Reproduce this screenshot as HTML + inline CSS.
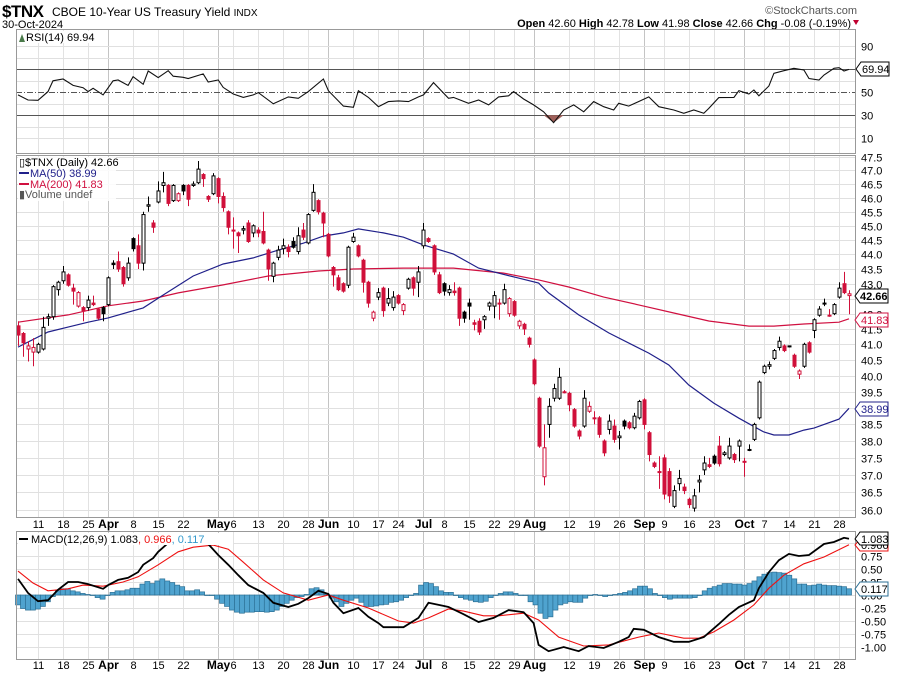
<!DOCTYPE html>
<html><head><meta charset="utf-8">
<style>
html,body{margin:0;padding:0;background:#fff;}
body{width:900px;height:673px;overflow:hidden;font-family:"Liberation Sans",Arial,sans-serif;}
svg text{font-family:"Liberation Sans",Arial,sans-serif;}
</style></head>
<body>
<svg id="chart" width="900" height="673" xmlns="http://www.w3.org/2000/svg">
  <rect x="0" y="0" width="900" height="673" fill="#fff"/>
  <text x="2" y="17" font-size="17" font-weight="bold" fill="#000" style="letter-spacing:-0.5px">$TNX</text>
  <text x="52" y="16" font-size="12" fill="#000">CBOE 10-Year US Treasury Yield <tspan font-size="10">INDX</tspan></text>
  <text x="2" y="28" font-size="11" fill="#000">30-Oct-2024</text>
  <text x="857" y="14" font-size="11" fill="#555" text-anchor="end">©StockCharts.com</text>
  <text x="851" y="27" font-size="11" fill="#000" text-anchor="end"><tspan font-weight="bold">Open</tspan> 42.60 <tspan font-weight="bold">High</tspan> 42.78 <tspan font-weight="bold">Low</tspan> 41.98 <tspan font-weight="bold">Close</tspan> 42.66 <tspan font-weight="bold">Chg</tspan> -0.08 (-0.19%)</text>
  <polygon points="853,20 859,20 856,25" fill="#c00030"/>
  <g id="g-grid"></g>
  <g id="g-rsi"></g>
  <g id="g-price"></g>
  <g id="g-macd"></g>
  <g id="g-axes"></g>
</svg>
<script>
// ---------- DATA ----------
const opens = [41.6,41.35,40.85,40.75,40.75,40.85,41.85,41.9,42.8,43.1,43.3,42.85,42.25,42.2,42.2,42.35,42.15,42.2,42.3,43.7,43.75,43.55,43.2,44.55,44.3,43.7,45.7,45.1,45.85,46.45,46.45,45.9,45.9,46.45,46.45,46.45,46.55,46.85,46.05,46.15,46.7,46.05,45.5,44.85,44.75,44.85,45.1,44.75,44.85,44.8,44.15,43.25,43.9,44.2,44.25,44.45,44.1,44.85,44.4,45.55,45.9,45.45,44.7,43.55,43.2,43.0,42.95,44.45,44.3,43.8,43.05,41.85,42.55,42.85,42.35,42.2,42.6,42.1,42.85,43.2,43.05,44.3,44.55,44.3,43.3,43.0,42.7,42.75,42.85,42.05,42.35,41.7,41.75,41.8,42.25,42.25,42.35,42.35,42.0,42.4,41.6,41.65,41.2,40.5,39.3,36.95,38.5,39.3,39.3,39.5,39.45,38.95,38.3,38.45,38.9,38.7,38.7,38.0,38.35,38.45,38.1,38.6,38.55,38.4,38.7,39.25,38.25,37.35,37.1,37.5,37.1,36.1,36.75,36.65,36.3,36.05,36.8,37.15,37.3,37.55,37.85,37.6,37.5,37.6,37.85,37.4,37.75,38.05,38.7,40.1,40.3,40.55,40.9,40.95,40.95,40.65,40.05,40.3,41.05,41.45,41.95,42.35,41.95,42.0,42.55,43.0,42.6];
const highs = [41.75,41.4,41.1,41.2,41.05,41.9,42.0,42.95,43.1,43.6,43.35,43.0,42.75,42.25,42.6,42.6,42.2,42.25,43.25,43.8,44.1,43.6,43.9,44.6,44.7,45.5,46.05,45.2,46.6,46.95,46.5,46.5,46.2,46.5,46.5,46.6,47.35,46.9,46.1,46.9,46.75,46.2,45.55,45.3,44.8,45.0,45.2,45.05,44.95,45.5,44.2,43.75,44.3,44.55,44.35,44.6,44.95,45.1,45.45,46.5,45.95,45.5,44.75,43.6,43.3,43.05,44.3,44.75,44.35,43.85,43.1,42.1,42.85,42.9,42.85,42.75,42.65,42.35,43.2,43.25,43.6,45.1,44.6,44.35,43.4,43.05,42.95,43.05,42.9,42.1,42.5,41.8,41.85,41.95,42.4,42.75,42.5,43.0,42.55,42.45,41.8,41.7,41.25,40.55,39.35,38.5,39.3,39.75,40.25,39.55,39.5,39.0,38.35,39.55,39.2,38.9,38.75,38.05,38.8,38.65,38.3,38.65,38.6,38.85,39.25,39.3,38.3,37.4,37.55,37.6,37.2,36.7,37.15,36.75,36.35,36.6,37.0,37.55,37.5,37.6,38.15,37.7,38.1,37.65,38.05,37.5,37.9,38.55,39.85,40.35,40.45,40.85,41.25,41.0,40.95,40.7,40.2,41.05,41.1,41.85,42.25,42.5,42.15,42.35,43.05,43.4,42.78];
const lows = [40.95,40.6,40.45,40.3,40.7,40.8,41.6,41.8,42.6,43.0,42.9,42.3,42.2,41.75,42.1,42.25,41.8,41.75,42.25,43.5,43.4,42.9,43.1,44.1,43.5,43.45,45.5,44.75,45.8,46.2,45.7,45.85,45.85,46.1,45.7,46.4,46.5,46.4,45.85,46.1,45.8,45.5,44.7,44.2,44.05,44.7,44.4,44.6,44.6,44.35,43.1,43.05,43.8,44.0,43.9,44.2,44.0,44.5,44.35,45.5,45.4,44.6,43.9,42.9,42.75,42.7,42.85,44.4,43.9,42.7,42.2,41.75,42.45,41.9,42.25,42.1,42.3,41.95,42.8,42.6,42.55,44.2,44.4,43.3,42.65,42.6,42.6,42.6,41.6,41.7,41.8,41.45,41.3,41.5,42.1,41.85,41.8,42.3,41.9,41.9,41.5,41.3,40.9,39.7,37.8,36.7,38.1,39.2,39.25,39.45,38.9,38.4,38.05,38.4,38.85,38.5,38.1,37.55,38.2,37.95,37.75,38.35,38.35,38.35,38.65,38.35,37.4,37.2,36.6,36.3,36.2,36.05,36.55,36.45,36.05,35.95,36.5,37.0,37.2,37.3,37.25,37.55,37.45,37.35,37.4,36.95,37.7,38.0,38.65,40.05,40.2,40.5,40.8,40.75,40.9,40.25,39.9,40.25,40.7,41.2,41.9,42.25,41.9,41.95,42.5,42.65,41.98];
const closes = [41.3,41.05,40.95,40.9,41.0,41.55,41.9,42.9,43.05,43.4,42.95,42.75,42.7,42.1,42.45,42.3,41.85,42.0,43.2,43.65,43.5,43.0,43.7,44.2,43.7,45.4,45.75,44.95,46.25,46.55,45.8,46.45,46.15,46.25,45.95,46.5,47.05,46.7,45.95,46.8,46.05,45.65,44.95,44.85,44.65,44.9,44.45,45.0,44.75,44.4,43.5,43.7,44.15,44.3,44.1,44.25,44.65,44.6,45.4,46.2,45.5,45.1,43.95,43.3,42.8,42.75,44.25,44.6,43.95,43.05,42.35,42.05,42.7,42.1,42.5,42.55,42.35,42.3,43.15,42.85,43.4,44.85,44.45,43.4,42.7,42.75,42.8,42.7,41.85,41.85,42.25,41.65,41.4,41.9,42.35,42.6,42.35,42.8,42.5,41.95,41.75,41.5,41.0,39.75,37.85,37.8,39.05,39.6,39.95,39.5,39.1,38.45,38.15,39.3,39.05,38.7,38.2,37.65,38.6,38.05,38.15,38.45,38.4,38.75,39.2,38.5,37.6,37.25,37.1,36.45,36.4,36.55,36.9,36.55,36.15,36.4,36.85,37.35,37.25,37.35,37.33,37.65,37.85,37.45,38.0,37.4,37.75,38.5,39.8,40.3,40.35,40.8,41.1,40.8,40.92,40.3,40.15,41.0,40.75,41.8,42.15,42.35,41.95,42.3,42.85,42.7,42.66];

const ma50Idx = [0,6,10,14,18,25,29,35,41,47,52,57,61,65,68,73,77,81,87,92,100,104,106,112,118,126,130,134,139,144,149,151,154,157,159,164,166];
const ma50Val = [40.91,41.40,41.56,41.72,41.86,42.19,42.62,43.26,43.67,43.88,44.15,44.39,44.64,44.75,44.89,44.75,44.60,44.33,44.01,43.53,43.19,43.02,42.69,41.96,41.37,40.72,40.34,39.71,39.15,38.69,38.27,38.18,38.18,38.33,38.39,38.66,38.99];
const ma200Idx = [0,10,18,25,32,41,50,60,67,77,87,97,104,110,117,124,131,138,146,151,157,164,166];
const ma200Val = [41.72,41.96,42.26,42.42,42.69,42.96,43.26,43.43,43.50,43.53,43.53,43.36,43.13,42.89,42.55,42.29,42.02,41.76,41.59,41.59,41.66,41.72,41.83];

const rsiIdx = [0,2,4,6,7,9,11,13,14,15,17,19,20,22,23,25,26,28,30,31,33,34,37,38,40,41,43,45,47,48,51,54,56,58,61,62,65,67,68,70,72,74,76,78,80,81,83,86,87,90,92,94,96,98,99,101,103,105,107,109,111,113,115,117,119,120,122,126,128,131,133,135,137,138,140,143,144,146,147,148,150,151,153,155,157,158,160,161,163,164,165,166];
const rsiVal = [47.7,43.3,43,50.6,60,61.6,56,54,50.6,53.5,47.7,60,60.7,56,63.6,57,68.5,62.8,68.8,64,63,62,66,59,60.7,54.3,48.5,45.6,47.7,49.7,40,46,44.8,50.6,61.6,51.4,38,37,51.4,45.6,37.5,41.9,42.5,41.9,46,47.7,58.4,44.8,45.6,40.4,43.3,39,46,47,50.6,44.2,39,33,23.6,34.6,39,33,41.9,37.5,34.6,40.4,38,46,37.5,34.6,31.7,34.6,31.7,36,45.4,45.6,51.4,48.5,52,47,55.5,66.5,68.8,70.9,69.4,62,60.7,65,70.9,71.4,68.5,69.94];

const macdIdx = [0,2,4,6,8,10,12,14,17,18,20,22,24,25,27,28,30,34,38,40,42,44,46,49,51,54,56,58,60,62,63,65,68,70,72,73,77,80,82,85,86,89,92,95,98,101,103,104,106,109,112,114,117,120,122,123,125,128,131,134,137,140,142,144,147,148,150,152,154,156,158,161,163,165,166];
const macdVal = [0.31,0.04,-0.12,-0.10,0.10,0.25,0.25,0.21,0.12,0.19,0.29,0.33,0.44,0.58,0.71,0.83,1.0,1.15,0.98,0.77,0.58,0.38,0.19,0.04,-0.15,-0.23,-0.17,-0.06,0.08,0.02,-0.15,-0.35,-0.25,-0.42,-0.54,-0.62,-0.62,-0.44,-0.15,-0.21,-0.23,-0.37,-0.52,-0.44,-0.29,-0.33,-0.54,-0.96,-1.08,-1.0,-1.08,-0.98,-1.02,-0.9,-0.81,-0.65,-0.67,-0.81,-0.9,-0.9,-0.81,-0.56,-0.38,-0.23,-0.10,0.13,0.44,0.67,0.79,0.75,0.77,0.98,1.02,1.10,1.083];
const sigIdx = [0,3,6,10,13,17,21,24,28,32,35,39,42,45,49,53,58,62,65,70,76,79,82,86,89,93,96,101,104,108,113,118,124,128,133,136,139,143,147,150,153,157,161,166];
const sigVal = [0.46,0.23,0.08,0.12,0.19,0.17,0.25,0.35,0.58,0.83,0.92,0.96,0.88,0.63,0.29,0.04,-0.10,0.0,-0.10,-0.25,-0.50,-0.54,-0.44,-0.27,-0.31,-0.40,-0.40,-0.35,-0.48,-0.81,-0.98,-0.96,-0.81,-0.73,-0.83,-0.83,-0.71,-0.48,-0.19,0.13,0.38,0.60,0.73,0.966];
const histVal = [-.19,-.26,-.29,-.29,-.27,-.22,-.13,-.03,.08,.12,.12,.08,.06,.03,.01,0,-.05,-.08,-.01,.05,.08,.08,.10,.13,.13,.21,.26,.22,.27,.31,.27,.24,.19,.16,.08,.08,.10,.06,0,-.01,-.08,-.16,-.22,-.29,-.33,-.35,-.33,-.33,-.32,-.32,-.33,-.32,-.29,-.22,-.16,-.10,-.05,-.03,.01,.12,.14,.10,.01,-.06,-.13,-.22,-.16,-.10,-.06,-.14,-.22,-.22,-.21,-.19,-.18,-.14,-.13,-.10,-.05,0,.03,.19,.24,.22,.16,.08,.05,
 .05,-.01,-.05,-.08,-.10,-.13,-.14,-.12,-.05,0,.03,.06,.06,.03,0,-.01,-.13,-.19,-.35,-.45,-.42,-.29,-.19,-.16,-.13,-.14,-.14,-.06,-.01,.01,0,-.03,-.01,.01,.03,.05,.08,.12,.17,.17,.12,.03,-.01,-.05,-.08,-.06,-.06,-.06,-.06,-.05,-.01,.08,.13,.16,.19,.22,.22,.21,.21,.19,.22,.27,.35,.40,.43,.44,.43,.42,.38,.31,.21,.21,.18,.19,.21,.19,.18,.18,.17,.16,.12];

const dateIdx = [4,9,14,18,23,28,33,40,43,48,53,58,62,67,72,76,81,85,90,95,99,103,110,115,120,125,129,134,139,145,149,154,159,164];
const dateLbl = ["11","18","25","Apr","8","15","22","May","6","13","20","28","Jun","10","17","24","Jul","8","15","22","29","Aug","12","19","26","Sep","9","16","23","Oct","7","14","21","28"];
const priceTicks = ["47.5","47.0","46.5","46.0","45.5","45.0","44.5","44.0","43.5","43.0","42.5","42.0","41.5","41.0","40.5","40.0","39.5","39.0","38.5","38.0","37.5","37.0","36.5","36.0"];
const rsiTicks = [90,70,50,30,10];
const macdTicks = ["1.00","0.75","0.50","0.25","0.00","-0.25","-0.50","-0.75","-1.00"];

// ---------- SCALES ----------
const L = 16, R = 855;
const NS = "http://www.w3.org/2000/svg";
function xOf(i){ return 18 + (831/(closes.length-1))*i; }
const histStep = 831/(histVal.length-1);
function xHist(i){ return 18 + histStep*i; }
function priceY(v){ return 157 + (Math.log(47.5)-Math.log(v))*1273; }
function rsiY(v){ return 92.3 - (v-50)*1.15; }
function macdY(v){ return 595 - v*52; }
function mk(tag, attrs, parent){ const e=document.createElementNS(NS,tag); for(const k in attrs) e.setAttribute(k, attrs[k]); parent.appendChild(e); return e; }

const gGrid=document.getElementById('g-grid'), gRsi=document.getElementById('g-rsi'),
      gPrice=document.getElementById('g-price'), gMacd=document.getElementById('g-macd'),
      gAx=document.getElementById('g-axes');

const panels = [[29,153],[155,517],[531,659]];
// vertical grid
dateIdx.forEach((di,k)=>{
  const x = Math.round(xOf(di))+0.5;
  const isMonth = isNaN(+dateLbl[k]);
  panels.forEach(p=>{
    const ln = mk('line',{x1:x,x2:x,y1:p[0],y2:p[1],stroke:isMonth?'#c4c4c4':'#e2e2e2','stroke-width':1},gGrid);
    
    
  });
  [524,665].forEach(y=>{
    const t = mk('text',{x:x,y:y+4,'font-size':isMonth?12:11,'font-weight':isMonth?'bold':'normal','text-anchor':'middle',fill:'#000'},gAx);
    t.textContent = dateLbl[k];
    
    
  });
});
// price grid + ticks
priceTicks.forEach(s=>{
  const y = Math.round(priceY(+s))+0.5;
  const ln = mk('line',{x1:L,x2:R,y1:y,y2:y,stroke:'#e0e0e0'},gGrid);
  
  
  const t = mk('text',{x:861,y:y+4,'font-size':11,fill:'#000'},gAx);
  t.textContent = s;
  
  
});
// rsi grid
[90,80,60,40,20,10].forEach(v=>{
  const y=Math.round(rsiY(v))+0.5;
  const ln = mk('line',{x1:L,x2:R,y1:y,y2:y,stroke:'#e0e0e0'},gGrid);
  
  
});
rsiTicks.forEach(v=>{
  if(v===70) return;
  const y=rsiY(v);
  const t = mk('text',{x:861,y:y+4,'font-size':11,fill:'#000'},gAx);
  t.textContent = v;
  
  
});
// macd grid
macdTicks.forEach(s=>{
  const y=Math.round(macdY(+s))+0.5;
  const ln = mk('line',{x1:L,x2:R,y1:y,y2:y,stroke:'#e0e0e0'},gGrid);
  
  
  if(s==="1.00") return;
  const t = mk('text',{x:861,y:y+4,'font-size':11,fill:'#000'},gAx);
  t.textContent = s;
  
  
});

// ---------- RSI ----------
[[70,'#555','none'],[30,'#555','none'],[50,'#555','6,2,1,2']].forEach(a=>{
  const y=Math.round(rsiY(a[0]))+0.5;
  const ln = mk('line',{x1:L,x2:R,y1:y,y2:y,stroke:a[1],'stroke-dasharray':a[2]},gRsi);
  
  
});
// oversold fill
let fillPts=[];
rsiIdx.forEach((ix,k)=>{ if(rsiVal[k]<30 || (rsiVal[k-1]<30) || (rsiVal[k+1]<30)) fillPts.push([xOf(ix), Math.max(rsiY(rsiVal[k]), 0)]); });
if(fillPts.length){
  const y30=rsiY(30);
  const pts = fillPts.map(p=>p[0]+','+Math.max(p[1],y30)).join(' ');
  const pg = mk('polygon',{points:fillPts[0][0]+','+y30+' '+pts+' '+fillPts[fillPts.length-1][0]+','+y30,fill:'#a0605a'},gRsi);
  
  
}
const rsiLine = mk('polyline',{points:rsiIdx.map((ix,k)=>xOf(ix).toFixed(1)+','+rsiY(rsiVal[k]).toFixed(1)).join(' '),fill:'none',stroke:'#111','stroke-width':1.1},gRsi);



// ---------- PRICE ----------
function maLine(idx, val, color, name){
  const p = mk('polyline',{points:idx.map((ix,k)=>xOf(ix).toFixed(1)+','+priceY(val[k]).toFixed(1)).join(' '),fill:'none',stroke:color,'stroke-width':1.2},gPrice);
  
  
}
maLine(ma200Idx, ma200Val, '#d01040', 'ma200-line');
maLine(ma50Idx, ma50Val, '#20208a', 'ma50-line');
closes.forEach((c,i)=>{
  const o=opens[i], h=highs[i], l=lows[i];
  const prev = i>0?closes[i-1]:c+1;
  const col = c>=prev ? '#000' : '#d0103a';
  const filled = c<o;
  const x=Math.round(xOf(i))+0.5;
  const g = mk('g',{},gPrice);
  
  
  const top=Math.min(priceY(o),priceY(c)), bot=Math.max(priceY(o),priceY(c));
  const w = mk('line',{x1:x,x2:x,y1:priceY(h),y2:priceY(l),stroke:col},g);
  
  
  const bh = Math.max(bot-top,1);
  const b = mk('rect',{x:x-1.5,y:top,width:3,height:bh,fill:filled?col:'#fff',stroke:col,'stroke-width':1},g);
  
  
});

// ---------- MACD ----------
const zy = macdY(0);
histVal.forEach((v,i)=>{
  const x = xHist(i)-2.5;
  const y1 = Math.min(zy, macdY(v)), hh = Math.abs(macdY(v)-zy);
  const r = mk('rect',{x:x,y:y1,width:5,height:Math.max(hh,0.5),fill:'#4fa3cf',stroke:'#2b6f94','stroke-width':0.7},gMacd);
  
  
});
const sigLine = mk('polyline',{points:sigIdx.map((ix,k)=>xOf(ix).toFixed(1)+','+macdY(sigVal[k]).toFixed(1)).join(' '),fill:'none',stroke:'#ee1111','stroke-width':1.1},gMacd);


const macdLine = mk('polyline',{points:macdIdx.map((ix,k)=>xOf(ix).toFixed(1)+','+Math.max(macdY(macdVal[k]),531).toFixed(1)).join(' '),fill:'none',stroke:'#000','stroke-width':1.8},gMacd);


</script>
<svg style="position:absolute;left:0;top:0" width="900" height="673">
  <!-- panel frames -->
  <rect x="16.5" y="29.5" width="839" height="124" fill="none" stroke="#999"/>
  <rect x="16.5" y="155.5" width="839" height="362" fill="none" stroke="#999"/>
  <rect x="16.5" y="531.5" width="839" height="128" fill="none" stroke="#999"/>
  <!-- legends -->
  <rect x="18" y="31" width="88" height="12" fill="#fff"/>
  <path d="M19 42 L22 34 L25 42 Z" fill="#4a7a4a"/>
  <text x="26" y="41" font-size="11" fill="#000">RSI(14) 69.94</text>
  <g>
    <rect x="18" y="157" width="98" height="44" fill="#fff" opacity="0.85"/>
    <text x="19" y="166" font-size="11" fill="#000">▯$TNX (Daily) 42.66</text>
    <line x1="19" y1="173" x2="29" y2="173" stroke="#20208a" stroke-width="2"/>
    <text x="30" y="177" font-size="11" fill="#20208a">MA(50) 38.99</text>
    <line x1="19" y1="184" x2="29" y2="184" stroke="#d01040" stroke-width="2"/>
    <text x="30" y="188" font-size="11" fill="#d01040">MA(200) 41.83</text>
    <text x="19" y="198" font-size="11" fill="#555">▮Volume undef</text>
  </g>
  <rect x="18" y="533" width="215" height="12" fill="#fff"/>
  <line x1="19" y1="539" x2="28" y2="539" stroke="#000" stroke-width="2"/>
  <text x="31" y="543" font-size="11" fill="#000">MACD(12,26,9) 1.083<tspan fill="#ee1111">, 0.966</tspan><tspan fill="#3399cc">, 0.117</tspan></text>
  <!-- value boxes -->
  <g>
    <path d="M856 69 L861 62 L889 62 L889 76 L861 76 Z" fill="#fff" stroke="#000"/>
    <text x="862" y="73" font-size="11" fill="#000">69.94</text>
  </g>
  <g>
    <path d="M855 296 L860 289 L888 289 L888 303 L860 303 Z" fill="#fff" stroke="#000"/>
    <text x="860" y="300" font-size="11" font-weight="bold" fill="#000">42.66</text>
  </g>
  <g>
    <path d="M855 320 L860 313 L888 313 L888 327 L860 327 Z" fill="#fff" stroke="#d01040"/>
    <text x="861" y="324" font-size="11" fill="#d01040">41.83</text>
  </g>
  <g>
    <path d="M855 409 L860 402 L888 402 L888 416 L860 416 Z" fill="#fff" stroke="#20208a"/>
    <text x="861" y="413" font-size="11" fill="#20208a">38.99</text>
  </g>
  <g>
    <path d="M855 545 L860 539 L888 539 L888 551 L860 551 Z" fill="#fff" stroke="#ee1111"/>
    <text x="861" y="549" font-size="11" fill="#000">0.966</text>
  </g>
  <g>
    <path d="M855 539 L860 532 L888 532 L888 545 L860 545 Z" fill="#fff" stroke="#000"/>
    <text x="861" y="543" font-size="11" fill="#000">1.083</text>
  </g>
  <g>
    <path d="M855 589 L860 582 L888 582 L888 596 L860 596 Z" fill="#fff" stroke="#2b6f94"/>
    <text x="861" y="593" font-size="11" fill="#000">0.117</text>
  </g>
</svg>
</body></html>
